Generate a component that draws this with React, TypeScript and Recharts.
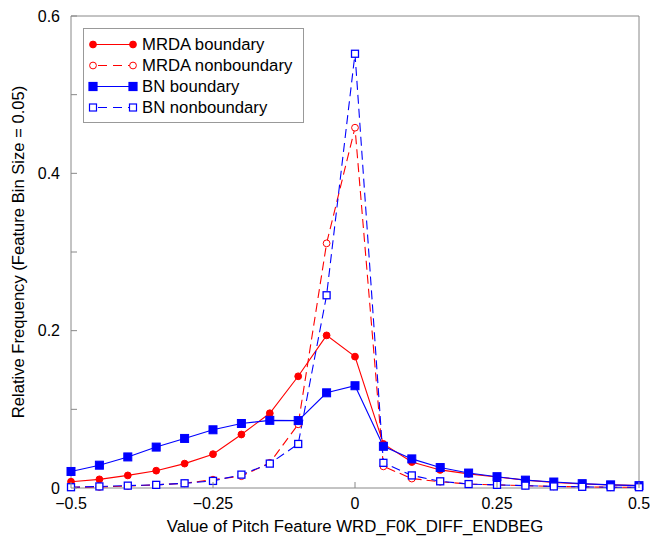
import { LineChart, Line, XAxis, YAxis, ReferenceArea } from 'recharts';

// bin centres
const binValues = [
  -0.5, -0.45, -0.4, -0.35, -0.3, -0.25, -0.2, -0.15, -0.1, -0.05, 0,
  0.05, 0.1, 0.15, 0.2, 0.25, 0.3, 0.35, 0.4, 0.45, 0.5,
];

const mrdaBoundary = [
  0.008, 0.011, 0.016, 0.022, 0.031, 0.043, 0.068, 0.095, 0.142, 0.194, 0.167,
  0.056, 0.033, 0.023, 0.018, 0.014, 0.010, 0.007, 0.005, 0.004, 0.003,
];
const mrdaNonboundary = [
  0.001, 0.0013, 0.0025, 0.004, 0.006, 0.0106, 0.015, 0.032, 0.081, 0.311, 0.458,
  0.0275, 0.012, 0.008, 0.005, 0.004, 0.003, 0.002, 0.0015, 0.001, 0.001,
];
const bnBoundary = [
  0.021, 0.029, 0.0395, 0.052, 0.063, 0.074, 0.082, 0.086, 0.0857, 0.121, 0.130,
  0.053, 0.037, 0.026, 0.019, 0.0144, 0.010, 0.0076, 0.0055, 0.004, 0.003,
];
const bnNonboundary = [
  0.001, 0.002, 0.003, 0.004, 0.006, 0.009, 0.017, 0.031, 0.056, 0.245, 0.552,
  0.032, 0.016, 0.0085, 0.005, 0.004, 0.003, 0.002, 0.0015, 0.001, 0.001,
];

const xTicks = [-0.5, -0.25, 0, 0.25, 0.5];
const yTicks = [0, 0.1, 0.2, 0.3, 0.4, 0.5, 0.6];

const legendItems = [
  { name: 'MRDA boundary', color: '#ff0000', dashed: false, marker: 'circle', filled: true },
  { name: 'MRDA nonboundary', color: '#ff0000', dashed: true, marker: 'circle', filled: false },
  { name: 'BN boundary', color: '#0000ff', dashed: false, marker: 'square', filled: true },
  { name: 'BN nonboundary', color: '#0000ff', dashed: true, marker: 'square', filled: false },
];

const data = binValues.map((x, i) => ({
  x,
  mrdaB: mrdaBoundary[i],
  mrdaN: mrdaNonboundary[i],
  bnB: bnBoundary[i],
  bnN: bnNonboundary[i],
}));

const W = 650;
const H = 536;
const LEFT = 71;
const RIGHT = 639;
const TOP = 16;
const BOTTOM = 488;
const TICK = 6;
const AXIS_COLOR = '#888';
const FONT = 'Liberation Sans, Arial, sans-serif';
const DASH = '9 5';

const fmtX = (v: number) => (v < 0 ? '\u2212' + Math.abs(v) : String(v));

const BottomTick = (props: any) => {
  const { x, payload } = props;
  return (
    <g>
      <line x1={x} x2={x} y1={BOTTOM} y2={BOTTOM - TICK} stroke={AXIS_COLOR} />
      <text x={x} y={BOTTOM + 15} dy="0.35em" textAnchor="middle" fontSize={16} fill="#000" fontFamily={FONT}>
        {fmtX(payload.value)}
      </text>
    </g>
  );
};

const TopTick = (props: any) => (
  <line x1={props.x} x2={props.x} y1={TOP} y2={TOP + TICK} stroke={AXIS_COLOR} />
);

const LeftTick = (props: any) => {
  const { y, payload } = props;
  const v = payload.value;
  const labelled = Math.round(v * 10) % 2 === 0;
  return (
    <g>
      <line x1={LEFT} x2={LEFT + TICK} y1={y} y2={y} stroke={AXIS_COLOR} />
      {labelled && (
        <text x={LEFT - 11} y={y} dy="0.35em" textAnchor="end" fontSize={16} fill="#000" fontFamily={FONT}>
          {v === 0 ? '0' : v.toFixed(1)}
        </text>
      )}
    </g>
  );
};

const RightTick = (props: any) => (
  <line x1={RIGHT} x2={RIGHT - TICK} y1={props.y} y2={props.y} stroke={AXIS_COLOR} />
);

const circleDot = (filled: boolean) => (p: any) => (
  <circle key={`c${p.index}`} cx={p.cx} cy={p.cy} r={3.4} fill={filled ? '#ff0000' : '#fff'} stroke="#ff0000" strokeWidth={1} />
);

const squareDot = (filled: boolean) => (p: any) => {
  const s = filled ? 8 : 7;
  return (
    <rect key={`s${p.index}`} x={p.cx - s / 2} y={p.cy - s / 2} width={s} height={s} fill={filled ? '#0000ff' : '#fff'} stroke="#0000ff" strokeWidth={filled ? 1 : 1.3} />
  );
};

function LegendBox() {
  return (
    <div
      style={{
        position: 'absolute',
        left: 83,
        top: 28,
        width: 219,
        height: 93,
        border: '1px solid #999',
        background: '#fff',
        fontFamily: FONT,
        fontSize: 16.7,
      }}
    >
      {legendItems.map((item, i) => (
        <div key={item.name} style={{ position: 'absolute', left: 0, top: 5 + i * 21, height: 21, display: 'flex', alignItems: 'center' }}>
          <svg width={58} height={21}>
            <line x1={9} x2={49} y1={10.5} y2={10.5} stroke={item.color} strokeWidth={1.2} strokeDasharray={item.dashed ? '9 6' : undefined} strokeDashoffset={item.dashed ? -5 : undefined} />
            {[9, 49].map((cx) =>
              item.marker === 'circle' ? (
                <circle key={cx} cx={cx} cy={10.5} r={3.4} fill={item.filled ? item.color : '#fff'} stroke={item.color} />
              ) : (
                <rect key={cx} x={cx - (item.filled ? 4 : 3.5)} y={10.5 - (item.filled ? 4 : 3.5)} width={item.filled ? 8 : 7} height={item.filled ? 8 : 7} fill={item.filled ? item.color : '#fff'} stroke={item.color} strokeWidth={1.2} />
              )
            )}
          </svg>
          <span style={{ color: '#000', whiteSpace: 'nowrap' }}>{item.name}</span>
        </div>
      ))}
    </div>
  );
}

export default function App() {
  return (
    <div style={{ position: 'fixed', left: 0, top: 0, width: W, height: H, background: '#fff' }}>
      <LineChart width={W} height={H} data={data} margin={{ top: TOP, right: W - RIGHT, bottom: 0, left: 0 }}>
        <XAxis
          dataKey="x"
          type="number"
          domain={[-0.5, 0.5]}
          ticks={xTicks}
          axisLine={false}
          tickLine={false}
          tick={<BottomTick />}
          height={H - BOTTOM}
          interval={0}
          label={{ value: 'Value of Pitch Feature WRD_F0K_DIFF_ENDBEG', position: 'insideBottom', offset: 4, fill: '#000', fontSize: 16.8, fontFamily: FONT }}
        />
        <XAxis
          xAxisId="top"
          dataKey="x"
          type="number"
          orientation="top"
          domain={[-0.5, 0.5]}
          ticks={xTicks}
          axisLine={false}
          tickLine={false}
          tick={<TopTick />}
          height={0}
          interval={0}
        />
        <YAxis
          type="number"
          domain={[0, 0.6]}
          ticks={yTicks}
          axisLine={false}
          tickLine={false}
          tick={<LeftTick />}
          width={LEFT}
          interval={0}
          label={{ value: 'Relative Frequency (Feature Bin Size = 0.05)', angle: -90, position: 'insideLeft', offset: 18, style: { textAnchor: 'middle' }, fill: '#000', fontSize: 16.6, fontFamily: FONT }}
        />
        <YAxis
          yAxisId="right"
          orientation="right"
          type="number"
          domain={[0, 0.6]}
          ticks={yTicks}
          axisLine={false}
          tickLine={false}
          tick={<RightTick />}
          width={0}
          interval={0}
        />
        <ReferenceArea x1={-0.5} x2={0.5} y1={0} y2={0.6} fill="none" stroke={AXIS_COLOR} strokeWidth={1} ifOverflow="visible" />
        <Line dataKey="mrdaB" stroke="#ff0000" strokeWidth={1.1} dot={circleDot(true)} isAnimationActive={false} />
        <Line dataKey="mrdaN" stroke="#ff0000" strokeWidth={1.1} strokeDasharray={DASH} dot={circleDot(false)} isAnimationActive={false} />
        <Line dataKey="bnB" stroke="#0000ff" strokeWidth={1.1} dot={squareDot(true)} isAnimationActive={false} />
        <Line dataKey="bnN" stroke="#0000ff" strokeWidth={1.1} strokeDasharray={DASH} dot={squareDot(false)} isAnimationActive={false} />
      </LineChart>
      <LegendBox />
    </div>
  );
}
